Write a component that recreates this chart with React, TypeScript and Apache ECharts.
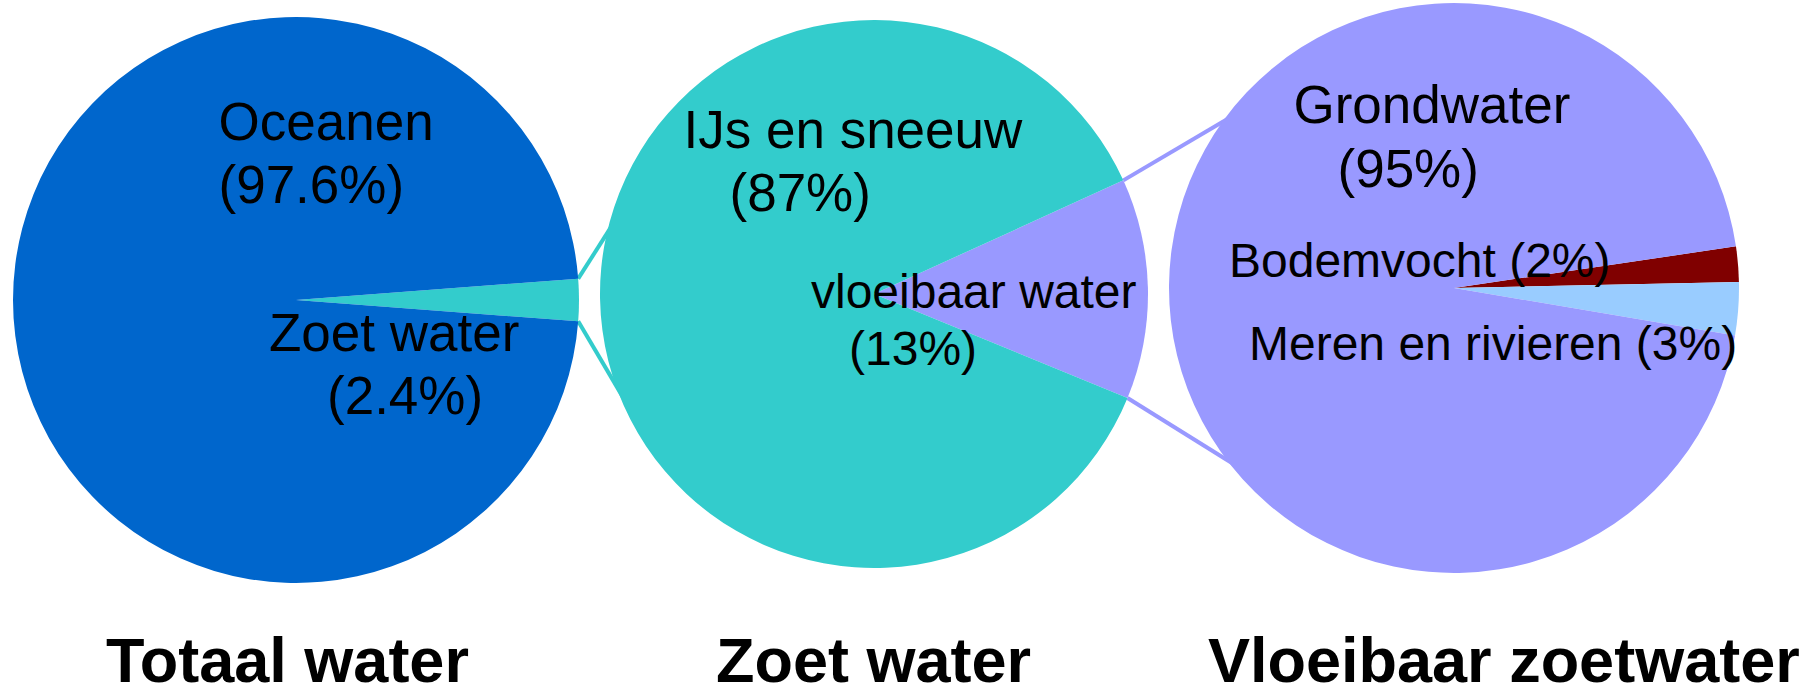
import React, { useEffect, useRef } from "react";
import * as echarts from "echarts";

// ---- data ----
const TOTAL_CATEGORIES = ["Zoet water", "Oceanen"];
const TOTAL_VALUES = [2.4, 97.6];
const FRESH_CATEGORIES = ["vloeibaar water", "IJs en sneeuw"];
const FRESH_VALUES = [13, 87];
const LIQUID_CATEGORIES = ["Bodemvocht", "Meren en rivieren", "Grondwater"];
const LIQUID_VALUES = [2, 3, 95];
const PIE_TITLES = ["Totaal water", "Zoet water", "Vloeibaar zoetwater"];

// ---- styles / layout ----
const TOTAL_COLORS = ["#33CCCC", "#0066CC"];
const FRESH_COLORS = ["#9999FF", "#33CCCC"];
const LIQUID_COLORS = ["#800000", "#99CCFF", "#9999FF"];
const CONNECTOR_COLORS = ["#33CCCC", "#9999FF"];

const FONT = '"Liberation Sans", Arial, Helvetica, sans-serif';
const W = 1814;
const H = 694;
const CENTERS = [
  [296, 300],
  [874, 294],
  [1454, 288],
];
const RADII = [283, 274, 285];
const START_ANGLES = [4.32, 24.5, 8.4];
const TITLE_LEFT = [106, 716, 1208];
const TITLE_TOP = 628;
const TITLE_SIZE = 63;
// target angles on the next pie where connector lines end
const CONNECTOR_TARGETS = [
  [165.5, 203],
  [143, 218.7],
];

type LabelPos = { x: number; y: number; indent: number; size: number; lh: number; wrap: boolean };
const LABEL_LAYOUT: LabelPos[][] = [
  [
    { x: 269, y: 301, indent: 58, size: 53, lh: 63, wrap: true },
    { x: 218.5, y: 90, indent: 0, size: 53, lh: 63, wrap: true },
  ],
  [
    { x: 811, y: 263, indent: 38, size: 48, lh: 57, wrap: true },
    { x: 683.5, y: 98, indent: 46, size: 53, lh: 63, wrap: true },
  ],
  [
    { x: 1229, y: 232, indent: 0, size: 48, lh: 57, wrap: false },
    { x: 1249, y: 315, indent: 0, size: 48, lh: 57, wrap: false },
    { x: 1293.5, y: 72, indent: 44, size: 53, lh: 64, wrap: true },
  ],
];

function pt(c: number[], r: number, deg: number) {
  const a = (deg * Math.PI) / 180;
  return [c[0] + r * Math.cos(a), c[1] - r * Math.sin(a)];
}

function buildSeries(idx: number, cats: string[], vals: number[], colors: string[]) {
  const data = cats.map((name, i) => {
    const lp = LABEL_LAYOUT[idx][i];
    return {
      name,
      value: vals[i],
      itemStyle: { color: colors[i], borderWidth: 0 },
      label: {
        formatter: lp.wrap
          ? `{a|${name}}\n{b|(${vals[i]}%)}`
          : `{a|${name} (${vals[i]}%)}`,
        rich: {
          a: { fontSize: lp.size, lineHeight: lp.lh, fontFamily: FONT, color: "#000" },
          b: {
            fontSize: lp.size,
            lineHeight: lp.lh,
            fontFamily: FONT,
            color: "#000",
            padding: [0, 0, 0, lp.indent],
          },
        },
      },
    };
  });
  return {
    type: "pie",
    center: CENTERS[idx],
    radius: RADII[idx],
    startAngle: START_ANGLES[idx],
    clockwise: true,
    avoidLabelOverlap: false,
    silent: true,
    z: 2,
    label: {
      show: true,
      position: "inside",
      color: "#000",
      fontFamily: FONT,
    },
    labelLine: { show: false },
    labelLayout: (params: any) => {
      const lp = LABEL_LAYOUT[idx][params.dataIndex];
      return { x: lp.x, y: lp.y, align: "left", verticalAlign: "top" };
    },
    emphasis: { disabled: true },
    data,
  };
}

export default function App() {
  const ref = useRef<HTMLDivElement>(null);
  useEffect(() => {
    if (!ref.current) return;
    const chart = echarts.init(ref.current, undefined, { renderer: "svg" });

    const allVals = [TOTAL_VALUES, FRESH_VALUES, LIQUID_VALUES];
    const lines: any[] = [];
    for (let k = 0; k < 2; k++) {
      const vals = allVals[k];
      const sum = vals.reduce((s, v) => s + v, 0);
      const span = (vals[0] / sum) * 360;
      const a0 = START_ANGLES[k];
      const a1 = START_ANGLES[k] - span;
      const p0 = pt(CENTERS[k], RADII[k], a0);
      const p1 = pt(CENTERS[k], RADII[k], a1);
      const q0 = pt(CENTERS[k + 1], RADII[k + 1] - 3, CONNECTOR_TARGETS[k][0]);
      const q1 = pt(CENTERS[k + 1], RADII[k + 1] - 3, CONNECTOR_TARGETS[k][1]);
      [
        [p0, q0],
        [p1, q1],
      ].forEach(([a, b]) => {
        lines.push({
          type: "line",
          z: 0,
          silent: true,
          shape: { x1: a[0], y1: a[1], x2: b[0], y2: b[1] },
          style: { stroke: CONNECTOR_COLORS[k], lineWidth: 4 },
        });
      });
    }

    chart.setOption({
      animation: false,
      backgroundColor: "#ffffff",
      title: PIE_TITLES.map((t, i) => ({
        text: t,
        left: TITLE_LEFT[i],
        top: TITLE_TOP,
        padding: 0,
        textStyle: {
          fontSize: TITLE_SIZE,
          fontWeight: "bold",
          fontFamily: FONT,
          color: "#000",
        },
      })),
      graphic: { elements: lines },
      series: [
        buildSeries(0, TOTAL_CATEGORIES, TOTAL_VALUES, TOTAL_COLORS),
        buildSeries(1, FRESH_CATEGORIES, FRESH_VALUES, FRESH_COLORS),
        buildSeries(2, LIQUID_CATEGORIES, LIQUID_VALUES, LIQUID_COLORS),
      ],
    });
    return () => chart.dispose();
  }, []);
  return (
    <div
      ref={ref}
      style={{ position: "fixed", left: 0, top: 0, width: W, height: H, background: "#fff" }}
    />
  );
}
